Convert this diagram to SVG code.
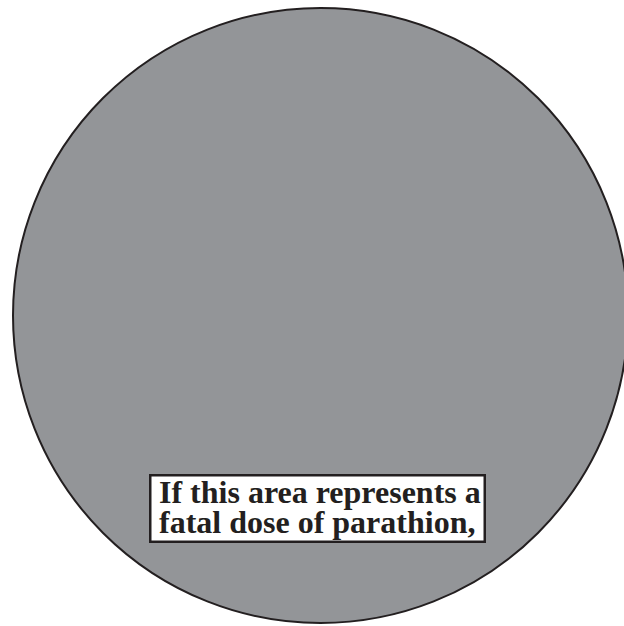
<svg xmlns="http://www.w3.org/2000/svg" width="624" height="626" viewBox="0 0 624 626">
<style>
.lbl{font-family:"Liberation Serif","Times New Roman",serif;font-weight:bold;font-size:32px;fill:#231f20}
</style>
<rect width="624" height="626" fill="#ffffff"/>
<g id="area">
<circle cx="320.5" cy="315.5" r="307.5" fill="#939598" stroke="#231f20" stroke-width="2"/>
</g>
<g id="label">
<rect x="150.25" y="475.25" width="334.5" height="66.5" fill="#ffffff" stroke="#231f20" stroke-width="2.5"/>
<text class="lbl" x="159"><tspan x="159" y="503">If this area represents a</tspan><tspan x="159" y="533">fatal dose of parathion,</tspan></text>
</g>
</svg>
